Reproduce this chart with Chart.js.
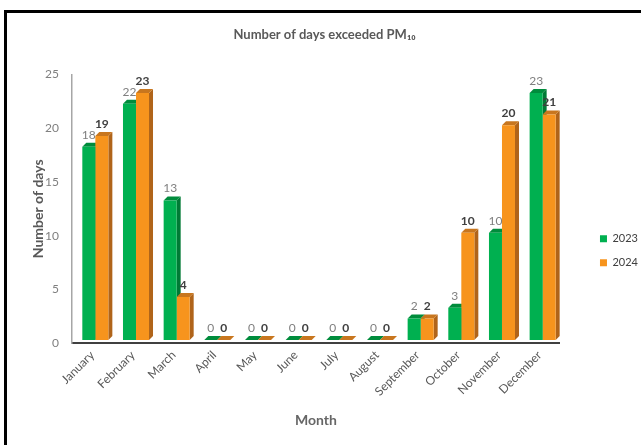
<!DOCTYPE html>
<html>
<head>
<meta charset="utf-8">
<script src="https://cdn.jsdelivr.net/npm/chart.js@4.4.1/dist/chart.umd.min.js"></script>
<style>
  html, body { margin: 0; padding: 0; background: #fff; overflow: hidden; }
  #wrap { position: relative; width: 641px; height: 445px; }
  #frame { position: absolute; left: 4px; top: 10px; width: 700px; height: 500px;
           border-top: 3px solid #000; border-left: 3px solid #000; pointer-events: none; }
  canvas { display: block; }
</style>
</head>
<body>
<div id="wrap">
  <canvas id="chart" width="641" height="445"></canvas>
  <div id="frame"></div>
</div>
<script>
// Monthly count of days above the PM10 limit
const months = ['January', 'February', 'March', 'April', 'May', 'June',
                'July', 'August', 'September', 'October', 'November', 'December'];
const days2023 = [18, 22, 13, 0, 0, 0, 0, 0, 2, 3, 10, 23];
const days2024 = [19, 23, 4, 0, 0, 0, 0, 0, 2, 10, 20, 21];
const yTicks = [0, 5, 10, 15, 20, 25];

const FONT = "Lato, 'Liberation Sans', Arial, sans-serif";
const DEPTH = 4;              // extrusion of the 3D columns
const LIFT = { x: 3, y: -3 }; // columns stand slightly behind the axis line

// Draws side and top faces behind each column, then value labels on top.
const columns3d = {
  id: 'columns3d',
  beforeDatasetsDraw(chart) {
    const ctx = chart.ctx;
    ctx.save();
    ctx.translate(LIFT.x, LIFT.y);
    const n = chart.data.labels.length;
    for (let i = 0; i < n; i++) {
      chart.data.datasets.forEach((ds, di) => {
        const el = chart.getDatasetMeta(di).data[i];
        const { x, y, base, width } = el.getProps(['x', 'y', 'base', 'width'], true);
        const l = x - width / 2, r = x + width / 2;
        ctx.fillStyle = ds.sideColor;
        ctx.beginPath();
        ctx.moveTo(r, y); ctx.lineTo(r + DEPTH, y - DEPTH);
        ctx.lineTo(r + DEPTH, base - DEPTH); ctx.lineTo(r, base);
        ctx.closePath(); ctx.fill();
        ctx.fillStyle = ds.topColor;
        ctx.beginPath();
        ctx.moveTo(l, y); ctx.lineTo(l + DEPTH, y - DEPTH);
        ctx.lineTo(r + DEPTH, y - DEPTH); ctx.lineTo(r, y);
        ctx.closePath(); ctx.fill();
      });
    }
  },
  afterDatasetsDraw(chart) {
    const ctx = chart.ctx;
    chart.data.datasets.forEach((ds, di) => {
      const meta = chart.getDatasetMeta(di);
      ctx.font = ds.labelFont;
      ctx.fillStyle = ds.labelColor;
      ctx.textAlign = 'center';
      ctx.textBaseline = 'bottom';
      meta.data.forEach((el, i) => {
        const { x, y } = el.getProps(['x', 'y'], true);
        ctx.fillText(String(ds.data[i]), x, y - DEPTH - 2);
      });
    });
    ctx.restore();
  },
  afterLayout(chart) {
    // nudge legend and title into place
    const lg = chart.legend;
    lg.left += 27; lg.right += 27; lg.top += 42; lg.bottom += 42;
    const tb = chart.titleBlock;
    tb.left += 10; tb.right += 10;
  }
};

new Chart(document.getElementById('chart'), {
  type: 'bar',
  data: {
    labels: months,
    datasets: [
      {
        label: '2023', data: days2023,
        backgroundColor: '#00B050', borderWidth: 0,
        sideColor: '#007A35', topColor: '#008C3C',
        labelColor: '#7F7F7F', labelFont: `12px ${FONT}`
      },
      {
        label: '2024', data: days2024,
        backgroundColor: '#F7941D', borderWidth: 0,
        sideColor: '#B0641A', topColor: '#C8761E',
        labelColor: '#404040', labelFont: `bold 12px ${FONT}`
      }
    ]
  },
  options: {
    responsive: false,
    animation: false,
    devicePixelRatio: 1,
    categoryPercentage: 0.64,
    barPercentage: 1.0,
    layout: { padding: { left: 8, right: 20, top: 0, bottom: 8 } },
    plugins: {
      title: {
        display: true,
        text: 'Number of days exceeded PM₁₀',
        color: '#595959',
        font: { family: FONT, size: 13, weight: 'bold' },
        padding: { top: 27, bottom: 32 }
      },
      legend: {
        position: 'right',
        fullSize: false,
        labels: {
          boxWidth: 7, boxHeight: 7, padding: 13,
          color: '#404040',
          font: { family: FONT, size: 11 }
        }
      },
      tooltip: { enabled: false }
    },
    scales: {
      x: {
        afterFit: s => { s.height = 94; },
        grid: { display: false, drawTicks: false },
        border: { display: true, color: '#404040', width: 2 },
        ticks: {
          autoSkip: false, maxRotation: 45, minRotation: 45, padding: 5,
          color: '#595959', font: { family: FONT, size: 12 }
        },
        title: {
          display: true, text: 'Month', color: '#666666',
          font: { family: FONT, size: 14, weight: 'bold' },
          padding: { top: 18, bottom: 8 }
        }
      },
      y: {
        min: 0, max: 25,
        afterBuildTicks: s => { s.ticks = yTicks.map(v => ({ value: v })); },
        afterFit: s => { s.width = 64; },
        grid: { display: false, drawTicks: false },
        border: { display: true, color: '#A6A6A6', width: 1.5 },
        ticks: { padding: 13, color: '#7F7F7F', font: { family: FONT, size: 12 } },
        title: {
          display: true, text: 'Number of days', color: '#595959',
          font: { family: FONT, size: 14, weight: 'bold' },
          padding: { top: 22, bottom: 4 }
        }
      }
    }
  },
  plugins: [columns3d]
});
</script>
</body>
</html>
